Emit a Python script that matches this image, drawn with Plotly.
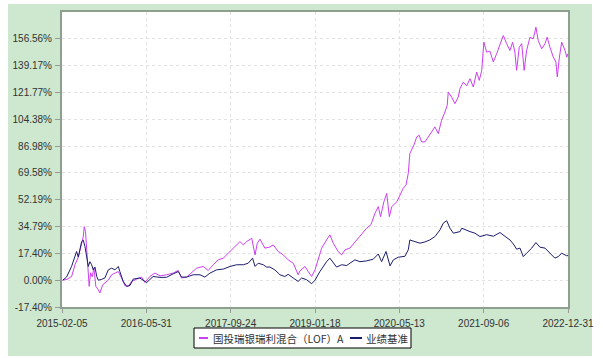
import plotly.graph_objects as go

fund_dates = [
    "2015-02-09", "2015-03-05", "2015-04-01", "2015-04-20", "2015-05-09", "2015-05-28", "2015-06-06",
    "2015-06-12", "2015-06-19", "2015-06-26", "2015-07-03", "2015-07-10", "2015-07-18", "2015-07-27",
    "2015-08-06", "2015-08-17", "2015-08-31", "2015-09-09", "2015-09-25", "2015-10-08", "2015-10-27",
    "2015-11-15", "2015-12-04", "2015-12-23", "2016-01-11", "2016-01-30", "2016-02-18", "2016-03-08",
    "2016-04-06", "2016-05-04", "2016-05-23", "2016-06-20", "2016-07-19", "2016-08-17", "2016-09-24",
    "2016-10-31", "2016-11-29", "2016-12-18", "2017-01-16", "2017-02-13", "2017-03-14", "2017-04-20",
    "2017-05-19", "2017-06-17", "2017-07-15", "2017-08-13", "2017-09-20", "2017-10-28", "2017-11-16",
    "2017-12-05", "2017-12-24", "2018-01-22", "2018-02-10", "2018-02-23", "2018-03-10", "2018-04-07",
    "2018-05-06", "2018-05-25", "2018-06-22", "2018-07-21", "2018-08-18", "2018-09-16", "2018-10-14",
    "2018-10-24", "2018-11-22", "2018-12-10", "2018-12-30", "2019-01-18", "2019-02-05", "2019-02-25",
    "2019-03-25", "2019-04-13", "2019-05-02", "2019-05-30", "2019-06-19", "2019-07-08", "2019-08-05",
    "2019-09-03", "2019-10-01", "2019-11-08", "2019-12-03", "2019-12-26", "2020-01-14", "2020-01-27",
    "2020-02-15", "2020-03-02", "2020-03-17", "2020-03-31", "2020-04-29", "2020-05-17", "2020-06-04",
    "2020-06-20", "2020-07-03", "2020-07-12", "2020-07-22", "2020-08-04", "2020-08-20", "2020-09-03",
    "2020-09-17", "2020-10-06", "2020-10-25", "2020-11-13", "2020-12-02", "2020-12-21", "2021-01-09",
    "2021-01-28", "2021-02-10", "2021-02-16", "2021-03-07", "2021-03-26", "2021-04-14", "2021-04-24",
    "2021-05-13", "2021-06-01", "2021-06-20", "2021-07-09", "2021-07-28", "2021-08-12", "2021-08-26",
    "2021-09-07", "2021-09-23", "2021-10-12", "2021-10-31", "2021-11-19", "2021-12-08", "2021-12-27",
    "2022-01-15", "2022-02-03", "2022-02-18", "2022-03-03", "2022-03-13", "2022-03-28", "2022-04-11",
    "2022-04-25", "2022-05-09", "2022-05-28", "2022-06-16", "2022-07-01", "2022-07-14", "2022-08-03",
    "2022-08-22", "2022-09-03", "2022-09-19", "2022-10-08", "2022-10-23", "2022-10-31", "2022-11-12",
    "2022-11-25", "2022-12-14", "2022-12-24", "2022-12-31",
]
fund_values = [
    0, 0.5, 2.4, 10, 15, 23, 28,
    34.7, 31.5, 19.7, 6.7, -4, 4.8, 2.2,
    8, -4, -6.2, -8.3, -3, -1.9, 0,
    3.5, 4.6, 5.6, 1.4, -3.6, -4, -0.8,
    0.7, 2, -1.5, 2.4, 4.6, 2.8, 3.5,
    4.6, 6.3, 1.4, 2, 4.6, 7.8, 8.9,
    6.3, 10, 13.2, 14.3, 18.6, 22.9, 25,
    22.9, 25, 27.2, 16.4, 24, 26.6, 20.8,
    21.5, 22.9, 18.6, 16.4, 13.2, 11, 3.5,
    6, 8.9, 5.6, 2.4, 6.7, 13.2, 20.8,
    26.1, 29.4, 24, 18.6, 16.4, 19.7, 20.8,
    25, 28.5, 33.7, 36, 43.4, 47.7, 41.2,
    50.9, 56.3, 41.2, 47.7, 50.9, 55.2, 59.6,
    61.7, 69.3, 82.2, 84.3, 87.6, 92.9, 94,
    89.7, 89.7, 92.9, 96.2, 99.4, 95.1, 103.7,
    109.1, 113.4, 122, 118.8, 114.5, 118.8, 124.3,
    128.5, 126, 130.7, 125.3, 135, 129.6, 136.1,
    154.4, 147.9, 148.5, 141.5, 146.9, 153.4, 158.7,
    153.4, 149, 154.4, 147.9, 136.1, 151.1, 153.4,
    136.1, 149, 157.6, 156.5, 164.1, 155.5, 150.1,
    153.4, 157.6, 151.1, 144.7, 141.5, 131.8, 144.7,
    154.4, 149, 144.7, 147,
]

bench_dates = [
    "2015-02-09", "2015-03-03", "2015-04-01", "2015-04-29", "2015-05-09", "2015-05-28", "2015-06-06",
    "2015-06-16", "2015-06-26", "2015-07-05", "2015-07-14", "2015-07-24", "2015-08-02", "2015-08-12",
    "2015-08-22", "2015-08-31", "2015-09-19", "2015-10-08", "2015-10-27", "2015-11-15", "2015-12-04",
    "2015-12-23", "2016-01-01", "2016-01-20", "2016-02-09", "2016-02-28", "2016-03-17", "2016-04-24",
    "2016-06-02", "2016-07-09", "2016-08-17", "2016-09-24", "2016-10-31", "2016-11-29", "2016-12-18",
    "2017-01-16", "2017-02-22", "2017-04-02", "2017-04-30", "2017-05-29", "2017-07-06", "2017-08-13",
    "2017-09-20", "2017-10-28", "2017-12-05", "2018-01-02", "2018-01-27", "2018-02-10", "2018-02-28",
    "2018-03-29", "2018-04-17", "2018-05-06", "2018-06-03", "2018-07-02", "2018-07-30", "2018-08-18",
    "2018-09-16", "2018-10-14", "2018-11-03", "2018-12-01", "2018-12-30", "2019-01-18", "2019-02-15",
    "2019-03-06", "2019-03-25", "2019-04-13", "2019-05-02", "2019-05-21", "2019-06-19", "2019-07-18",
    "2019-08-05", "2019-09-03", "2019-10-01", "2019-11-08", "2019-12-16", "2020-01-14", "2020-02-02",
    "2020-02-27", "2020-03-21", "2020-04-09", "2020-05-07", "2020-06-14", "2020-07-03", "2020-07-12",
    "2020-08-10", "2020-09-08", "2020-10-06", "2020-11-03", "2020-12-02", "2020-12-31", "2021-01-18",
    "2021-02-07", "2021-02-26", "2021-03-17", "2021-04-24", "2021-05-04", "2021-06-20", "2021-07-18",
    "2021-08-16", "2021-09-23", "2021-10-31", "2021-12-08", "2022-01-05", "2022-02-03", "2022-02-22",
    "2022-03-13", "2022-04-01", "2022-04-20", "2022-05-09", "2022-06-07", "2022-07-01", "2022-07-24",
    "2022-08-22", "2022-09-19", "2022-10-17", "2022-11-05", "2022-11-25", "2022-12-24", "2022-12-31",
]
bench_values = [
    0, 2, 9, 18.6, 15, 25, 26,
    21.8, 15, 8.9, 12, 10, 6.7, 8.5,
    2.4, 0, 0.5, 1.5, 6.7, 7.8, 6.7,
    8.9, 5.6, -0.8, -4, -3.4, 0.7, 1.4,
    -1.5, 2.4, 1.8, 1.9, 4.1, 5.6, 2,
    2, 3.5, 3.5, 2, 4.6, 6.7, 7.2,
    8.9, 10, 10, 11, 14.3, 8.9, 11,
    10, 8.5, 8.5, 6.7, 3.5, 2.4, 3.8,
    1.4, -0.8, 1.4, 0.3, -2.3, 0, 5.6,
    8.9, 12, 14.3, 11, 8.5, 10, 9.5,
    11, 13.2, 12, 12.5, 13.6, 17, 12,
    18.6, 9.3, 13.2, 14.9, 15.5, 19.7, 26.1,
    25, 24, 24.8, 26.1, 28.3, 32.6, 36.9,
    38.6, 33.7, 30.5, 31.5, 33.7, 31.5, 30.5,
    28.3, 29.5, 28.5, 30.9, 28.5, 26.1, 23.5,
    20.1, 20.8, 15.3, 17.5, 20.8, 24.4, 21.4,
    20.8, 17.5, 14.3, 15.3, 17.5, 15.8, 16,
]

x_tick_dates = ["2015-02-05", "2016-05-31", "2017-09-24", "2019-01-18",
                "2020-05-13", "2021-09-06", "2022-12-31"]
y_tick_values = [-17.40, 0.00, 17.40, 34.79, 52.19, 69.58, 86.98, 104.38, 121.77, 139.17, 156.56]
y_tick_labels = [f"{v:.2f}%" for v in y_tick_values]

series_names = ["国投瑞银瑞利混合（LOF）A", "业绩基准"]
series_colors = ["#cc3ff0", "#1c1c6e"]

fig = go.Figure()
fig.add_trace(go.Scatter(x=fund_dates, y=fund_values, mode="lines", name=series_names[0],
                         line=dict(color=series_colors[0], width=1)))
fig.add_trace(go.Scatter(x=bench_dates, y=bench_values, mode="lines", name=series_names[1],
                         line=dict(color=series_colors[1], width=1)))

axis_font = dict(family="Liberation Sans, Arial", size=10, color="#333333")
legend_font = dict(family="Noto Sans CJK SC", size=10.5, color="#333333")

LEG_Y = -0.1051
shapes = [
    # green card
    dict(type="rect", xref="paper", yref="paper", x0=-0.1067, x1=1.0474, y0=-0.1661, y1=1.0271,
         fillcolor="#cde8cf", line=dict(width=0), layer="below"),
    # white plot area
    dict(type="rect", xref="paper", yref="paper", x0=0, x1=1, y0=0, y1=1,
         fillcolor="white", line=dict(width=0), layer="below"),
    # legend box
    dict(type="rect", xref="paper", yref="paper", x0=0.2609, x1=0.6897, y0=-0.139, y1=-0.0712,
         fillcolor="white", line=dict(color="#000000", width=1), layer="above"),
    # legend line samples
    dict(type="line", xref="paper", yref="paper", x0=0.2708, x1=0.2885, y0=LEG_Y, y1=LEG_Y,
         line=dict(color=series_colors[0], width=2)),
    dict(type="line", xref="paper", yref="paper", x0=0.5692, x1=0.5929, y0=LEG_Y, y1=LEG_Y,
         line=dict(color=series_colors[1], width=2)),
]
annotations = [
    dict(text=series_names[0], xref="paper", yref="paper", x=0.2945, y=LEG_Y,
         xanchor="left", yanchor="middle", showarrow=False, font=legend_font),
    dict(text=series_names[1], xref="paper", yref="paper", x=0.5960, y=LEG_Y,
         xanchor="left", yanchor="middle", showarrow=False, font=legend_font),
]

fig.update_layout(
    width=603, height=358,
    margin=dict(l=62, r=35, t=12, b=51, autoexpand=False),
    paper_bgcolor="white",
    plot_bgcolor="white",
    showlegend=False,
    shapes=shapes,
    annotations=annotations,
    xaxis=dict(
        type="date", range=["2015-02-05", "2022-12-31"],
        tickvals=x_tick_dates, ticktext=x_tick_dates,
        tickfont=axis_font, ticks="outside", ticklen=4, tickcolor="#999999",
        ticklabelstandoff=2,
        showgrid=True, gridcolor="#e2e2e2", griddash="dot", gridwidth=1,
        showline=True, linecolor="#8f9f8f", linewidth=2, mirror=True,
        zeroline=False, automargin=False,
    ),
    yaxis=dict(
        range=[-17.40, 173.96],
        tickvals=y_tick_values, ticktext=y_tick_labels,
        tickfont=axis_font, ticks="outside", ticklen=5, tickcolor="#999999",
        ticklabelstandoff=1,
        showgrid=True, gridcolor="#e2e2e2", griddash="dot", gridwidth=1,
        showline=True, linecolor="#8f9f8f", linewidth=2, mirror=True,
        zeroline=False, automargin=False,
    ),
)

fig.write_html("out.html", config={"displayModeBar": False},
               post_script="document.body.style.margin='0';")
